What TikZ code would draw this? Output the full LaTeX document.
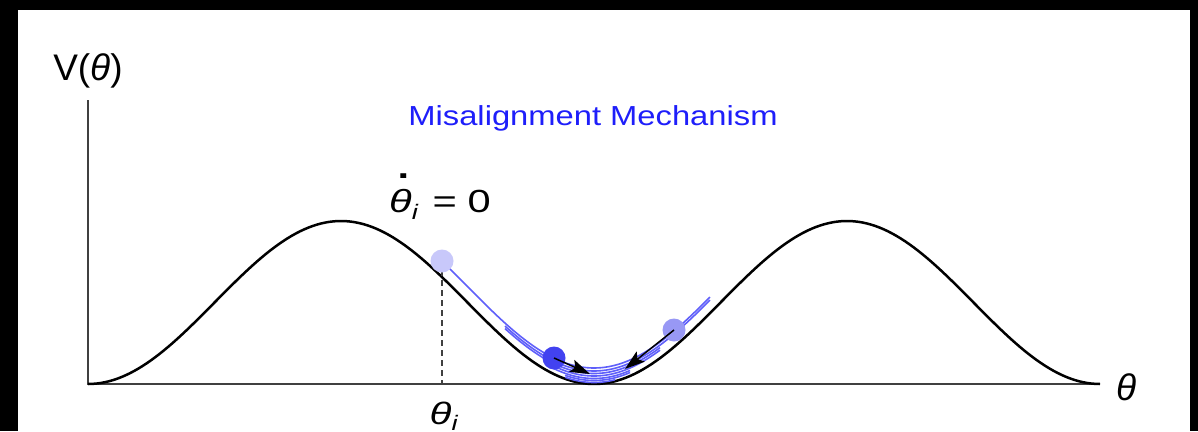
\documentclass[tikz,border=0pt]{standalone}
\usepackage{amsmath}
\usepackage{fontspec}
\setmainfont{Liberation Sans}
\usetikzlibrary{arrows.meta}
\definecolor{titleblue}{RGB}{30,30,250}
\definecolor{trajblue}{RGB}{95,95,250}
\definecolor{ballA}{RGB}{200,200,250}
\definecolor{ballB}{RGB}{152,152,245}
\definecolor{ballC}{RGB}{66,66,240}
\newcommand{\thi}{\textit{θ}}
\newcommand{\thdot}{\makebox[0pt][l]{\hspace{0.2em}\raisebox{1.05em}{\textbf{.}}}\thi}
\begin{document}
\begin{tikzpicture}[x=1pt,y=-1pt,
  ball/.style={circle,inner sep=0pt,minimum size=23pt},
  traj/.style={trajblue,line width=1.6pt},
  pot/.style={line width=2.5pt},
  axisline/.style={line width=1.6pt, black!75},
  push/.style={-{Stealth[length=20pt,width=13pt,inset=4pt]},line width=1.5pt},
  lbl/.style={inner sep=0pt, anchor=base}]
\useasboundingbox (0,0) rectangle (1198,431);
\fill[black] (0,0) rectangle (1198,431);
\fill[white] (18,10) rectangle (1190,431);
% axes
\coordinate (origin) at (88,384);
\coordinate (ytop) at (88,100);
\coordinate (xend) at (1100,384);
\draw[axisline] (ytop) -- (origin) -- (xend);
% potential
\draw[pot] plot[domain=88:1100,samples=240] (\x,{384-81.5*(1-cos((\x-88)*0.711462))});
% dashed marker
\coordinate (dtop) at (442,270);
\coordinate (dbot) at (442,384);
\draw[dashed,dash pattern=on 6pt off 4pt,line width=1.4pt,black!75] (dtop) -- (dbot);
% trajectories
\foreach \xs/\xe/\d in {442/710/16, 710/505/13, 505/660/10.5, 660/545/8, 545/630/5.5, 630/565/3.5, 565/615/1.5}{
  \draw[traj] plot[domain=\xs:\xe,samples=80] (\x,{384-81.5*(1-cos((\x-88)*0.711462))-\d});
}
% balls
\node[ball,fill=ballA] (b1) at (442,261) {};
\node[ball,fill=ballB] (b2) at (674,330) {};
\node[ball,fill=ballC] (b3) at (554,358) {};
\coordinate (t3) at (590,374);
\coordinate (t2) at (625,369);
\draw[push] (b3.center) -- (t3);
\draw[push] (b2.center) -- (t2);
% labels
\node[lbl,font=\fontsize{37}{40}\selectfont] (vlab) at (88,80) {V(\thi)};
\node[lbl,font=\fontsize{27.5}{30}\selectfont,text=titleblue] (title) at (593,125.5) {\scalebox{1.19}[1]{Misalignment Mechanism}};
\node[lbl,font=\fontsize{32}{34}\selectfont] (eq) at (440,212) {\scalebox{1.3}[1]{\thdot\raisebox{-0.22em}{\fontsize{21}{22}\selectfont\textit{i}}\hspace{0.34em}=\hspace{0.26em}0}};
\node[lbl,font=\fontsize{31}{34}\selectfont] (thi) at (444,424) {\scalebox{1.3}[1]{\thi\raisebox{-0.22em}{\fontsize{21}{22}\selectfont\textit{i}}}};
\node[lbl,font=\fontsize{37}{40}\selectfont] (thx) at (1127,400) {\thi};
\end{tikzpicture}
\end{document}
